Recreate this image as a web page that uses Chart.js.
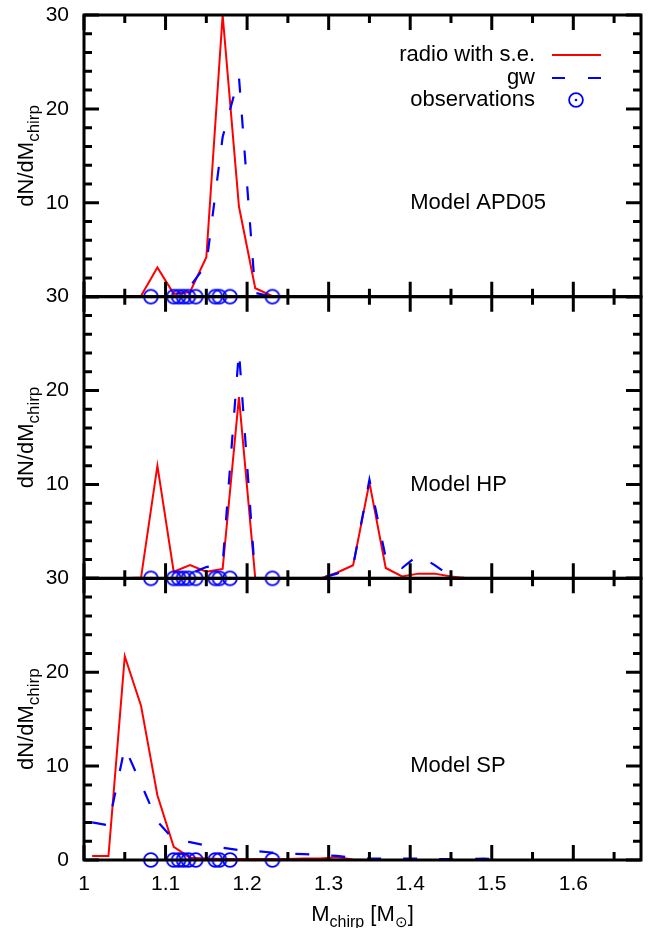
<!DOCTYPE html>
<html>
<head>
<meta charset="utf-8">
<script src="https://cdn.jsdelivr.net/npm/chart.js@4.4.1/dist/chart.umd.min.js"></script>
<style>
  html, body { margin: 0; padding: 0; background: #fff; }
</style>
</head>
<body>
<canvas id="chirp" width="651" height="928"></canvas>
<script>
// chirp-mass distributions, three population models
const xTicks = [1, 1.1, 1.2, 1.3, 1.4, 1.5, 1.6];
const xTickLabels = ['1', '1.1', '1.2', '1.3', '1.4', '1.5', '1.6'];
const yTicks = [0, 10, 20, 30];
const yTickLabels = ['0', '10', '20', '30'];

const panelNames = ['Model APD05', 'Model HP', 'Model SP'];
const legendLabels = ['radio with s.e.', 'gw', 'observations'];

const obsX = [1.082, 1.110, 1.116, 1.122, 1.128, 1.137, 1.161, 1.166, 1.179, 1.231];

const apdX     = [1.05, 1.07, 1.09, 1.11, 1.13, 1.15, 1.17, 1.19, 1.21, 1.23, 1.25];
const apdRadio = [0, 0.1, 3.1, 0.3, 0.5, 4.2, 30, 9.6, 0.9, 0.1, 0];
const apdGw    = [0, 0, 0, 0, 1.1, 3.4, 17, 23.4, 0.4, 0, 0];

const hpX     = [1.05, 1.07, 1.09, 1.11, 1.13, 1.15, 1.17, 1.19, 1.21, 1.23, 1.25, 1.27,
                 1.29, 1.31, 1.33, 1.35, 1.37, 1.39, 1.41, 1.43, 1.45, 1.47, 1.49];
const hpRadio = [0, 0.1, 12.0, 0.7, 1.4, 0.7, 1.0, 19.3, 0, 0, 0, 0,
                 0, 0.6, 1.4, 10.2, 1.1, 0.2, 0.5, 0.5, 0.2, 0, 0];
const hpGw    = [0, 0, 0, 0, 0.5, 1.2, 1.5, 24.2, 0, 0, 0, 0,
                 0, 0.5, 1.3, 10.5, 2.2, 1.1, 2.5, 1.4, 0.2, 0, 0];

const spX     = [1.01, 1.03, 1.05, 1.07, 1.09, 1.11, 1.13, 1.15, 1.17, 1.19, 1.21, 1.23, 1.25,
                 1.27, 1.29, 1.31, 1.33, 1.35, 1.37, 1.39, 1.41, 1.43, 1.45, 1.47, 1.49, 1.51];
const spRadio = [0.43, 0.43, 21.7, 16.4, 6.9, 1.4, 0.25, 0.15, 0.1, 0.1, 0.1, 0.1, 0.1,
                 0.15, 0.15, 0.3, 0.05, 0, 0, 0, 0, 0, 0, 0, 0, 0];
const spGw    = [4.0, 3.7, 12.0, 8.1, 4.1, 2.2, 1.9, 1.55, 1.3, 1.05, 0.95, 0.8, 0.68,
                 0.62, 0.55, 0.43, 0.25, 0.15, 0.15, 0.15, 0.15, 0.1, 0.1, 0.1, 0.15, 0.1];

const FONT = "'Liberation Sans', Arial, Helvetica, sans-serif";
const RED = '#ff0000';
const BLUE = '#0000ff';
const panelAxes = ['yTop', 'yMid', 'yBot'];

const toPoints = (xs, ys) => xs.map((x, i) => ({ x, y: ys[i] }));

// open circle with a dot, gnuplot style
const obsMarker = document.createElement('canvas');
obsMarker.width = 20;
obsMarker.height = 20;
(() => {
    const c = obsMarker.getContext('2d');
    c.strokeStyle = BLUE;
    c.fillStyle = BLUE;
    c.lineWidth = 1.8;
    c.beginPath();
    c.arc(10, 10, 6.9, 0, Math.PI * 2);
    c.stroke();
    c.beginPath();
    c.arc(10, 10, 1.3, 0, Math.PI * 2);
    c.fill();
})();

function radioSet(xs, ys, axis) {
    return {
        label: legendLabels[0], data: toPoints(xs, ys), yAxisID: axis,
        showLine: true, borderColor: RED, borderWidth: 2, pointRadius: 0, order: 3,
    };
}
function gwSet(xs, ys, axis) {
    return {
        label: legendLabels[1], data: toPoints(xs, ys), yAxisID: axis,
        showLine: true, borderColor: BLUE, borderWidth: 2.2, borderDash: [14, 22],
        pointRadius: 0, order: 2,
    };
}
function obsSet(axis) {
    return {
        label: legendLabels[2], data: obsX.map(x => ({ x, y: 0 })), yAxisID: axis,
        showLine: false, pointStyle: obsMarker, pointRadius: 7, clip: false, order: 1,
    };
}

function noPad(s) {
    s.paddingTop = 0; s.paddingBottom = 0; s.paddingLeft = 0; s.paddingRight = 0;
}

function yScale(id, weight) {
    return {
        type: 'linear', position: 'left', stack: 'panels', stackWeight: 1, weight,
        min: 0, max: 30,
        grid: { display: false, drawTicks: false },
        border: { display: false },
        afterBuildTicks: s => { s.ticks = yTicks.map(v => ({ value: v })); },
        afterFit: s => { s.width = 84; noPad(s); },
        ticks: {
            color: '#000', padding: 15, font: { family: FONT, size: 21 },
            callback: (v, i) => (id !== 'yBot' && v === 0) ? '' : yTickLabels[i],
        },
    };
}

function drawParts(ctx, parts, cx, cy) {
    // parts: [text, size, shift] laid out centred on cx, baseline cy
    let total = 0;
    parts.forEach(p => { ctx.font = p[1] + 'px ' + FONT; total += ctx.measureText(p[0]).width; });
    let x = cx - total / 2;
    ctx.textAlign = 'left';
    ctx.textBaseline = 'alphabetic';
    parts.forEach(p => {
        ctx.font = p[1] + 'px ' + FONT;
        ctx.fillText(p[0], x, cy + p[2]);
        x += ctx.measureText(p[0]).width;
    });
}

const framePlugin = {
    id: 'frame',
    afterDatasetsDraw(chart) {
        const ctx = chart.ctx;
        const xs = chart.scales.x;
        ctx.save();
        ctx.strokeStyle = '#000';
        ctx.lineWidth = 3;
        panelAxes.forEach(id => {
            const ys = chart.scales[id];
            const top = ys.top, bottom = ys.bottom, left = xs.left, right = xs.right;
            ctx.strokeRect(left, top, right - left, bottom - top);
            ctx.beginPath();
            for (let k = 0; k <= 13; k++) {
                const v = 1 + k * 0.05;
                if (v > xs.max) break;
                const px = xs.getPixelForValue(v);
                const len = k % 2 === 0 ? 15 : 8;
                ctx.moveTo(px, top); ctx.lineTo(px, top + len);
                ctx.moveTo(px, bottom); ctx.lineTo(px, bottom - len);
            }
            for (let v = 0; v <= 30; v += 2) {
                const py = ys.getPixelForValue(v);
                const len = v % 10 === 0 ? 15 : 8;
                ctx.moveTo(left, py); ctx.lineTo(left + len, py);
                ctx.moveTo(right, py); ctx.lineTo(right - len, py);
            }
            ctx.stroke();
        });
        ctx.restore();
    },
    afterDraw(chart) {
        const ctx = chart.ctx;
        const xs = chart.scales.x;
        ctx.save();
        ctx.fillStyle = '#000';

        // model names
        panelAxes.forEach((id, i) => {
            const ys = chart.scales[id];
            ctx.font = '22px ' + FONT;
            ctx.textAlign = 'left';
            ctx.textBaseline = 'middle';
            ctx.fillText(panelNames[i], xs.getPixelForValue(1.4), ys.getPixelForValue(10));
        });

        // y titles
        panelAxes.forEach(id => {
            const ys = chart.scales[id];
            ctx.save();
            ctx.translate(33, (ys.top + ys.bottom) / 2);
            ctx.rotate(-Math.PI / 2);
            drawParts(ctx, [['dN/dM', 22, 0], ['chirp', 17, 6]], 0, 0);
            ctx.restore();
        });

        // x title
        drawParts(ctx, [['M', 22, 0], ['chirp', 16, 6], [' [M', 22, 0], ['\u2299', 15, 6], [']', 22, 0]],
            (xs.left + xs.right) / 2, 921);

        // legend
        const rows = [55, 78, 100];
        ctx.font = '22px ' + FONT;
        ctx.textAlign = 'right';
        ctx.textBaseline = 'middle';
        legendLabels.forEach((t, i) => ctx.fillText(t, 535, rows[i]));
        ctx.lineWidth = 2;
        ctx.strokeStyle = RED;
        ctx.beginPath(); ctx.moveTo(552, rows[0]); ctx.lineTo(601, rows[0]); ctx.stroke();
        ctx.strokeStyle = BLUE;
        ctx.lineWidth = 2.2;
        ctx.setLineDash([13, 23]);
        ctx.beginPath(); ctx.moveTo(552, rows[1]); ctx.lineTo(601, rows[1]); ctx.stroke();
        ctx.setLineDash([]);
        ctx.drawImage(obsMarker, 576 - 10, rows[2] - 10);
        ctx.restore();
    },
};

new Chart(document.getElementById('chirp'), {
    type: 'scatter',
    data: {
        datasets: [
            radioSet(apdX, apdRadio, 'yTop'), gwSet(apdX, apdGw, 'yTop'), obsSet('yTop'),
            radioSet(hpX, hpRadio, 'yMid'), gwSet(hpX, hpGw, 'yMid'), obsSet('yMid'),
            radioSet(spX, spRadio, 'yBot'), gwSet(spX, spGw, 'yBot'), obsSet('yBot'),
        ],
    },
    options: {
        responsive: false,
        animation: false,
        layout: { padding: { top: 15, right: 10, left: 0, bottom: 0 } },
        plugins: { legend: { display: false }, tooltip: { enabled: false } },
        elements: { line: { tension: 0 } },
        scales: {
            x: {
                type: 'linear', position: 'bottom', min: 1, max: 1.683,
                grid: { display: false, drawTicks: false },
                border: { display: false },
                afterBuildTicks: s => { s.ticks = xTicks.map(v => ({ value: v })); },
                afterFit: s => { s.height = 68; noPad(s); },
                ticks: {
                    color: '#000', padding: 12, font: { family: FONT, size: 21 },
                    callback: (v, i) => xTickLabels[i],
                },
            },
            yBot: yScale('yBot', 1),
            yMid: yScale('yMid', 2),
            yTop: yScale('yTop', 3),
        },
    },
    plugins: [framePlugin],
});
</script>
</body>
</html>
